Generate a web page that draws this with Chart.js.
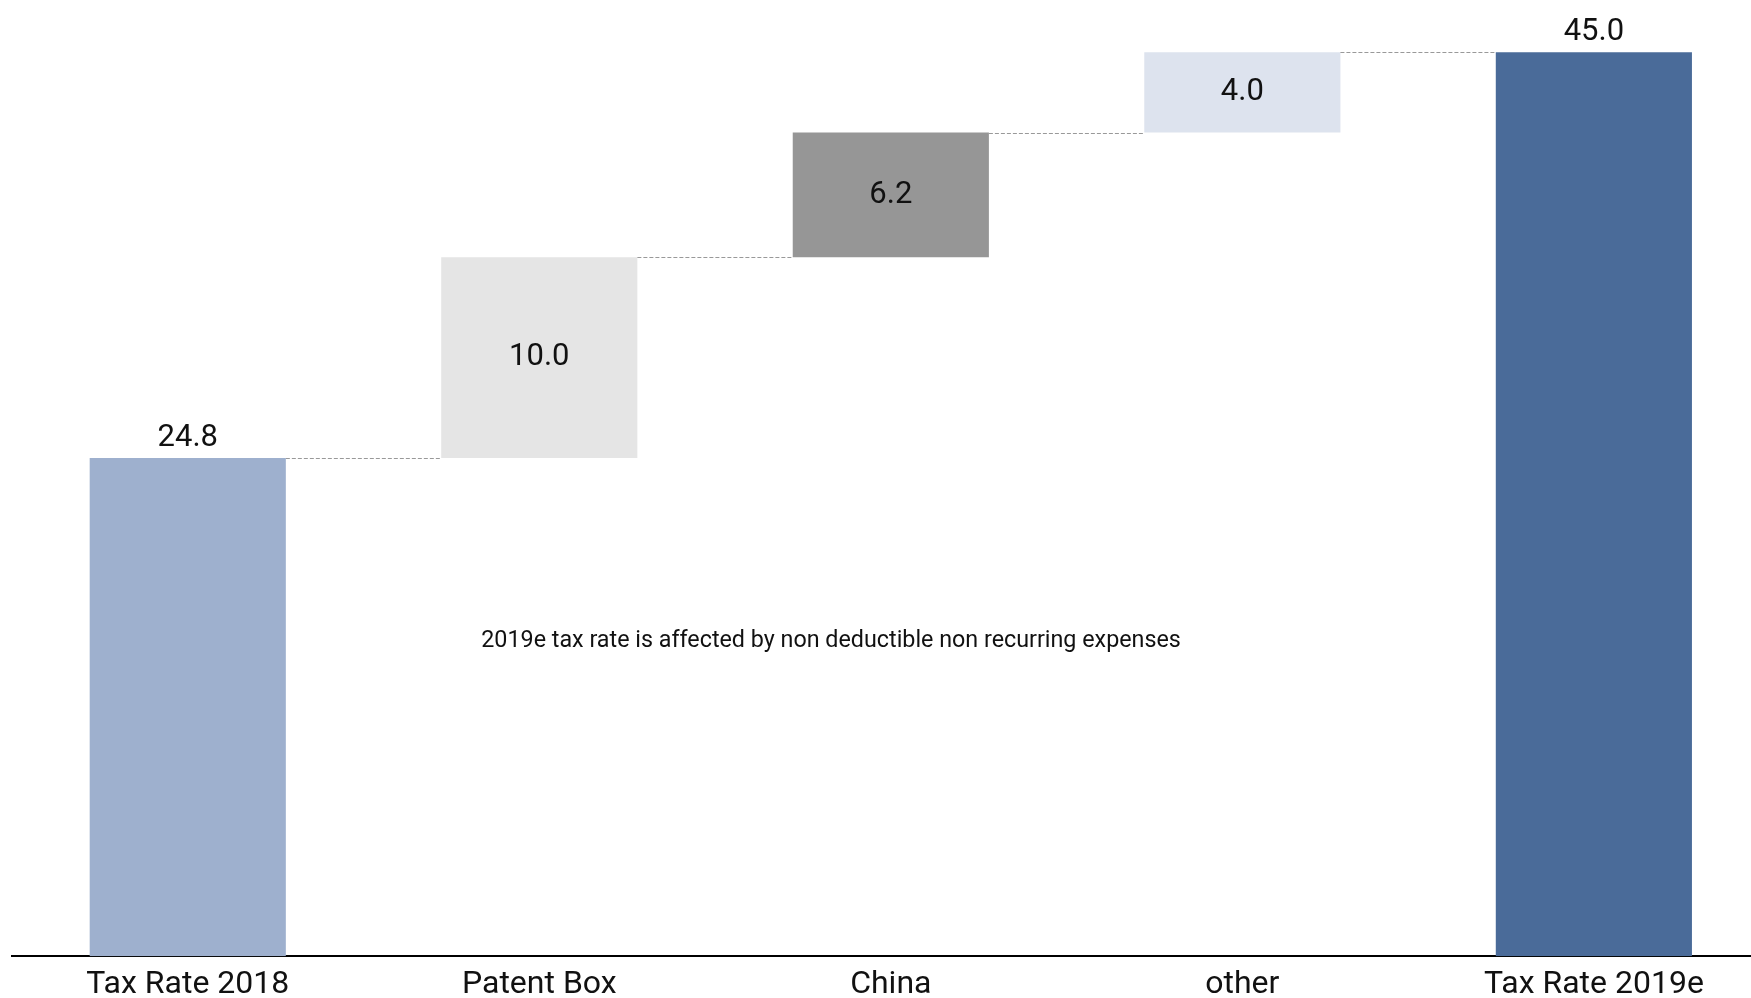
<!DOCTYPE html>
<html>
<head>
<meta charset="utf-8">
<title>Tax rate bridge 2018 - 2019e</title>
<script src="https://cdn.jsdelivr.net/npm/chart.js@4/dist/chart.umd.min.js"></script>
<style>
  html, body { margin: 0; padding: 0; background: #fff; }
  #wrap { width: 1751px; height: 998px; position: relative; }
</style>
</head>
<body>
<div id="wrap"><canvas id="bridge"></canvas></div>
<script>
// bridge steps: first and last are totals, the rest are increments
const categories = ['Tax Rate 2018', 'Patent Box', 'China', 'other', 'Tax Rate 2019e'];
const values = [24.8, 10.0, 6.2, 4.0, 45.0];
const isTotal = [true, false, false, false, true];
const barColors = ['#9eb0ce', '#e5e5e5', '#969696', '#dde3ee', '#4a6b99'];

const note = '2019e tax rate is affected by non deductible non recurring expenses';
const notePos = { x: 1.83, y: 15.4 };

// build floating [start, end] ranges from the step values
const ranges = [];
let running = 0;
values.forEach((v, i) => {
    if (isTotal[i]) {
        ranges.push([0, v]);
        running = v;
    } else {
        ranges.push([running, running + v]);
        running += v;
    }
});

const bridgeLabels = {
    id: 'bridgeLabels',
    afterDatasetsDraw(chart) {
        const ctx = chart.ctx;
        const meta = chart.getDatasetMeta(0);
        const xs = chart.scales.x;
        const ys = chart.scales.y;
        ctx.save();

        // dashed connectors between neighbouring bars
        ctx.strokeStyle = '#999';
        ctx.lineWidth = 1;
        ctx.setLineDash([4, 2]);
        for (let i = 0; i < meta.data.length - 1; i++) {
            const a = meta.data[i];
            const b = meta.data[i + 1];
            const y = Math.round(ys.getPixelForValue(ranges[i][1])) + 0.5;
            ctx.beginPath();
            ctx.moveTo(a.x + a.width / 2, y);
            ctx.lineTo(b.x - b.width / 2, y);
            ctx.stroke();
        }
        ctx.setLineDash([]);

        // value labels: above totals, centred inside steps
        ctx.fillStyle = '#111';
        ctx.font = '31px Roboto';
        ctx.textAlign = 'center';
        meta.data.forEach((bar, i) => {
            const txt = values[i].toFixed(1);
            if (isTotal[i]) {
                ctx.textBaseline = 'alphabetic';
                ctx.fillText(txt, bar.x, bar.y - 12);
            } else {
                ctx.textBaseline = 'middle';
                ctx.fillText(txt, bar.x, (bar.y + bar.base) / 2);
            }
        });

        // footnote
        ctx.font = '23.3px Roboto';
        ctx.textBaseline = 'alphabetic';
        ctx.fillText(note, xs.getPixelForValue(notePos.x), ys.getPixelForValue(notePos.y));
        ctx.restore();
    }
};

Chart.defaults.font.family = 'Roboto';
Chart.defaults.color = '#111';

new Chart(document.getElementById('bridge'), {
    type: 'bar',
    data: {
        datasets: [{
            data: ranges.map((r, i) => ({ x: i, y: r })),
            backgroundColor: barColors,
            borderWidth: 0,
            barPercentage: 1,
            categoryPercentage: 0.558
        }]
    },
    options: {
        responsive: true,
        maintainAspectRatio: false,
        animation: false,
        layout: { padding: { left: 12, right: 0, top: 0, bottom: -15 } },
        plugins: { legend: { display: false }, tooltip: { enabled: false } },
        scales: {
            x: {
                type: 'linear',
                offset: false,
                min: -0.5,
                max: 4.447,
                afterBuildTicks: axis => {
                    axis.ticks = categories.map((c, i) => ({ value: i }));
                },
                grid: { display: false, drawTicks: false, offset: false },
                border: { display: true, color: '#000', width: 2 },
                ticks: {
                    autoSkip: false,
                    maxRotation: 0,
                    padding: 6,
                    font: { size: 32, lineHeight: 1.4 },
                    color: '#111',
                    callback: (value, index) => categories[index]
                }
            },
            y: {
                display: false,
                min: 0,
                max: 47.6
            }
        }
    },
    plugins: [bridgeLabels]
});
</script>
</body>
</html>
